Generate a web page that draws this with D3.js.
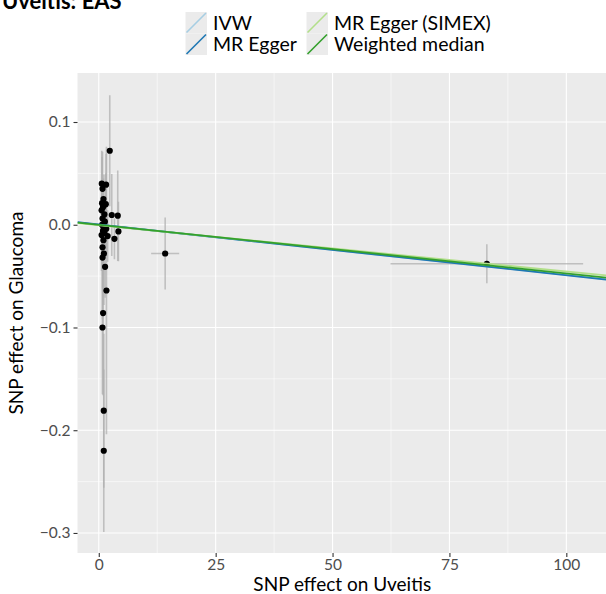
<!DOCTYPE html>
<html>
  <head>
    <title>Uveitis: EAS</title>
    <meta charset="utf-8" />
    <script src="https://d3js.org/d3.v7.min.js"></script>
    <style>
      body { margin: 0; background: #fff; }
      text { font-family: Lato, "Noto Sans", sans-serif; }
    </style>
  </head>
  <body>
    <svg id="chart" width="606" height="594"></svg>

    <script>
      // SNP effects (exposure = Uveitis, outcome = Glaucoma)
      const bx = [2.35, 0.64, 1.56, 0.8, 1.0, 0.7, 1.1, 0.9, 1.5, 0.6, 1.2, 2.78, 4.06, 0.8, 1.3, 0.7, 1.0, 1.6, 0.9, 4.2, 1.2, 0.6, 1.9, 3.35, 1.0, 0.8, 1.1, 0.8, 1.35, 1.64, 0.92, 0.79, 1.07, 1.07, 14.2, 83.0];
      const by = [0.072, 0.04, 0.039, 0.035, 0.025, 0.021, 0.019, 0.017, 0.02, 0.014, 0.01, 0.0095, 0.0088, 0.006, 0.003, 0.0, -0.002, -0.004, -0.006, -0.0065, -0.008, -0.01, -0.011, -0.0137, -0.015, -0.022, -0.028, -0.032, -0.041, -0.064, -0.086, -0.1, -0.181, -0.22, -0.028, -0.038];
      const bxse = [0.3, 0.2, 0.3, 0.2, 0.2, 0.2, 0.3, 0.2, 0.3, 0.2, 0.2, 0.4, 0.5, 0.2, 0.2, 0.2, 0.2, 0.3, 0.2, 0.5, 0.2, 0.2, 0.3, 0.4, 0.2, 0.2, 0.2, 0.2, 0.2, 0.3, 0.2, 0.2, 0.2, 0.2, 3.0, 20.6];
      const byse = [0.054, 0.032, 0.03, 0.036, 0.02, 0.045, 0.03, 0.025, 0.03, 0.02, 0.015, 0.04, 0.044, 0.02, 0.025, 0.02, 0.03, 0.02, 0.025, 0.029, 0.02, 0.035, 0.025, 0.02, 0.03, 0.04, 0.05, 0.06, 0.03, 0.14, 0.08, 0.065, 0.075, 0.079, 0.035, 0.019];

      // MR estimates drawn as lines
      const methods = ["IVW", "MR Egger", "MR Egger (SIMEX)", "Weighted median"];
      const intercepts = [0, 0.0002, -0.0005, 0];
      const slopes = [-0.000488, -0.000494, -0.00045, -0.000474];
      const colors = ["#a6cee3", "#1f78b4", "#b2df8a", "#33a02c"];

      const xTicks = [0, 25, 50, 75, 100];
      const yTicks = [0.1, 0, -0.1, -0.2, -0.3];

      const svg = d3.select("#chart");
      const panel = { left: 77.5, right: 607, top: 73, bottom: 553 };

      // Escalas
      const xScale = d3.scaleLinear().domain([-4.55, 108.7]).range([panel.left, panel.right]);
      const yScale = d3.scaleLinear().domain([-0.3195, 0.1477]).range([panel.bottom, panel.top]);

      svg.append("defs").append("clipPath").attr("id", "clip")
        .append("rect")
        .attr("x", panel.left).attr("y", panel.top)
        .attr("width", panel.right - panel.left).attr("height", panel.bottom - panel.top);

      // Fondo del panel
      svg.append("rect")
        .attr("x", panel.left).attr("y", panel.top)
        .attr("width", panel.right - panel.left).attr("height", panel.bottom - panel.top)
        .attr("fill", "#ebebeb");

      const grid = svg.append("g").attr("clip-path", "url(#clip)");
      const xMinor = d3.range(-12.5, 120, 25);
      const yMinor = [0.15, 0.05, -0.05, -0.15, -0.25];

      grid.selectAll(".xminor").data(xMinor).join("line")
        .attr("x1", xScale).attr("x2", xScale)
        .attr("y1", panel.top).attr("y2", panel.bottom)
        .attr("stroke", "#fff").attr("stroke-width", 0.55);
      grid.selectAll(".yminor").data(yMinor).join("line")
        .attr("y1", yScale).attr("y2", yScale)
        .attr("x1", panel.left).attr("x2", panel.right)
        .attr("stroke", "#fff").attr("stroke-width", 0.55);
      grid.selectAll(".xmajor").data(xTicks).join("line")
        .attr("x1", xScale).attr("x2", xScale)
        .attr("y1", panel.top).attr("y2", panel.bottom)
        .attr("stroke", "#fff").attr("stroke-width", 1.1);
      grid.selectAll(".ymajor").data(yTicks).join("line")
        .attr("y1", yScale).attr("y2", yScale)
        .attr("x1", panel.left).attr("x2", panel.right)
        .attr("stroke", "#fff").attr("stroke-width", 1.1);

      const plot = svg.append("g").attr("clip-path", "url(#clip)");
      const idx = d3.range(bx.length);

      // Barras de error
      plot.selectAll(".ey").data(idx).join("line")
        .attr("x1", (i) => xScale(bx[i])).attr("x2", (i) => xScale(bx[i]))
        .attr("y1", (i) => yScale(by[i] - byse[i])).attr("y2", (i) => yScale(by[i] + byse[i]))
        .attr("stroke", "#b0b0b0").attr("stroke-opacity", 0.75).attr("stroke-width", 1.6);
      plot.selectAll(".ex").data(idx).join("line")
        .attr("y1", (i) => yScale(by[i])).attr("y2", (i) => yScale(by[i]))
        .attr("x1", (i) => xScale(bx[i] - bxse[i])).attr("x2", (i) => xScale(bx[i] + bxse[i]))
        .attr("stroke", "#b0b0b0").attr("stroke-opacity", 0.75).attr("stroke-width", 1.6);

      // Puntos
      plot.selectAll(".pt").data(idx).join("circle")
        .attr("cx", (i) => xScale(bx[i])).attr("cy", (i) => yScale(by[i]))
        .attr("r", 3.1).attr("fill", "#000");

      // Líneas de los métodos MR
      const x0 = xScale.domain()[0], x1 = xScale.domain()[1];
      plot.selectAll(".mr").data(d3.range(methods.length)).join("line")
        .attr("x1", xScale(x0)).attr("x2", xScale(x1))
        .attr("y1", (m) => yScale(intercepts[m] + slopes[m] * x0))
        .attr("y2", (m) => yScale(intercepts[m] + slopes[m] * x1))
        .attr("stroke", (m) => colors[m]).attr("stroke-width", 1.8);

      // Ejes
      const xAxis = svg.append("g")
        .attr("transform", `translate(0,${panel.bottom})`)
        .call(d3.axisBottom(xScale).tickValues(xTicks).tickSize(4).tickPadding(2));
      const yAxis = svg.append("g")
        .attr("transform", `translate(${panel.left},0)`)
        .call(d3.axisLeft(yScale).tickValues(yTicks).tickSize(4).tickPadding(3).tickFormat(d3.format(".1f")));
      [xAxis, yAxis].forEach((ax) => {
        ax.select(".domain").remove();
        ax.selectAll(".tick line").attr("stroke", "#333").attr("stroke-width", 1.1);
        ax.selectAll(".tick text").attr("fill", "#4d4d4d").style("font-size", "15.5px")
          .style("font-family", "Lato, 'Noto Sans', sans-serif");
      });

      // Títulos de ejes
      svg.append("text")
        .attr("x", (panel.left + panel.right) / 2).attr("y", 591)
        .attr("text-anchor", "middle").attr("font-size", "19px").attr("fill", "#000")
        .text("SNP effect on Uveitis");
      svg.append("text")
        .attr("transform", `translate(23,${(panel.top + panel.bottom) / 2}) rotate(-90)`)
        .attr("text-anchor", "middle").attr("font-size", "19px").attr("fill", "#000")
        .text("SNP effect on Glaucoma");

      // Título
      svg.append("text")
        .attr("x", 2).attr("y", 9)
        .attr("font-size", "22px").attr("font-weight", "bold").attr("fill", "#000")
        .text("Uveitis: EAS");

      // Leyenda (2 columnas, por columna)
      const keyW = 21.5, keyH = 21.5;
      const colX = [185.5, 306.5], rowY = [12, 33.5];
      const legend = svg.append("g");
      methods.forEach((name, m) => {
        const kx = colX[Math.floor(m / 2)], ky = rowY[m % 2];
        const g = legend.append("g").attr("transform", `translate(${kx},${ky})`);
        g.append("rect").attr("width", keyW).attr("height", keyH).attr("fill", "#ebebeb");
        g.append("line")
          .attr("x1", 1).attr("y1", keyH - 1).attr("x2", keyW - 1).attr("y2", 1)
          .attr("stroke", colors[m]).attr("stroke-width", 1.6);
        g.append("text")
          .attr("x", keyW + 6).attr("y", keyH / 2).attr("dy", "0.36em")
          .attr("font-size", "19.5px").attr("fill", "#000")
          .text(name);
      });
    </script>
  </body>
</html>
